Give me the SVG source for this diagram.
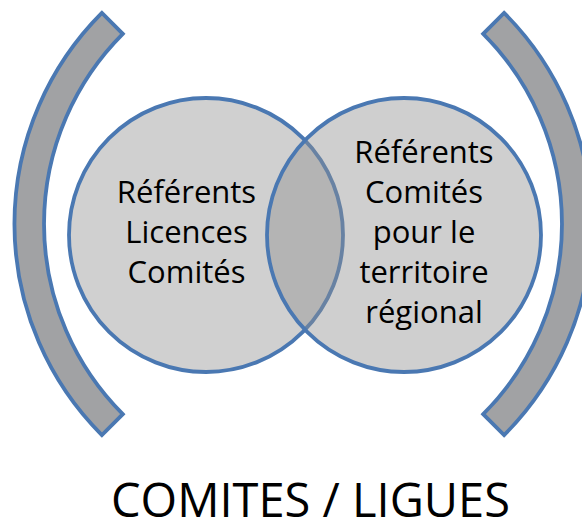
<svg xmlns="http://www.w3.org/2000/svg" width="582" height="525" viewBox="0 0 582 525">
<style>
.bracket{fill:#A1A2A4;stroke:#4A78B2;stroke-width:3.8;stroke-linejoin:miter}
.circ{stroke:#4A78B2;stroke-width:3.8}
.lbl{font-family:"Open Sans","Liberation Sans",sans-serif;font-size:31px;fill:#000;text-anchor:middle}
.title{font-family:"Open Sans","Liberation Sans",sans-serif;font-size:47px;fill:#000;text-anchor:middle}
</style>
<rect width="582" height="525" fill="#fff"/>
<g id="bracket-left">
<path class="bracket" d="M 101.9 12.9 A 298.5 298.5 0 0 0 101.9 435.1 L 122.8 414.2 A 269 269 0 0 1 122.8 33.8 Z"/>
</g>
<g id="bracket-right">
<path class="bracket" d="M 504.1 12.9 A 298.5 298.5 0 0 1 504.1 435.1 L 483.2 414.2 A 269 269 0 0 0 483.2 33.8 Z"/>
</g>
<g id="circle-left">
<circle class="circ" cx="206" cy="235" r="137" fill="#D0D0D0"/>
</g>
<g id="circle-right">
<circle class="circ" cx="404" cy="235" r="137" fill="#909090" fill-opacity="0.43"/>
</g>
<g id="label-left">
<text class="lbl" x="186.5" y="203">Référents</text>
<text class="lbl" x="186.5" y="243">Licences</text>
<text class="lbl" x="186.5" y="283">Comités</text>
</g>
<g id="label-right">
<text class="lbl" x="424" y="163">Référents</text>
<text class="lbl" x="424" y="203">Comités</text>
<text class="lbl" x="424" y="243">pour le</text>
<text class="lbl" x="424" y="283">territoire</text>
<text class="lbl" x="424" y="323">régional</text>
</g>
<g id="title">
<text class="title" x="310.5" y="517">COMITES / LIGUES</text>
</g>
<g id="connectors"></g>
</svg>
